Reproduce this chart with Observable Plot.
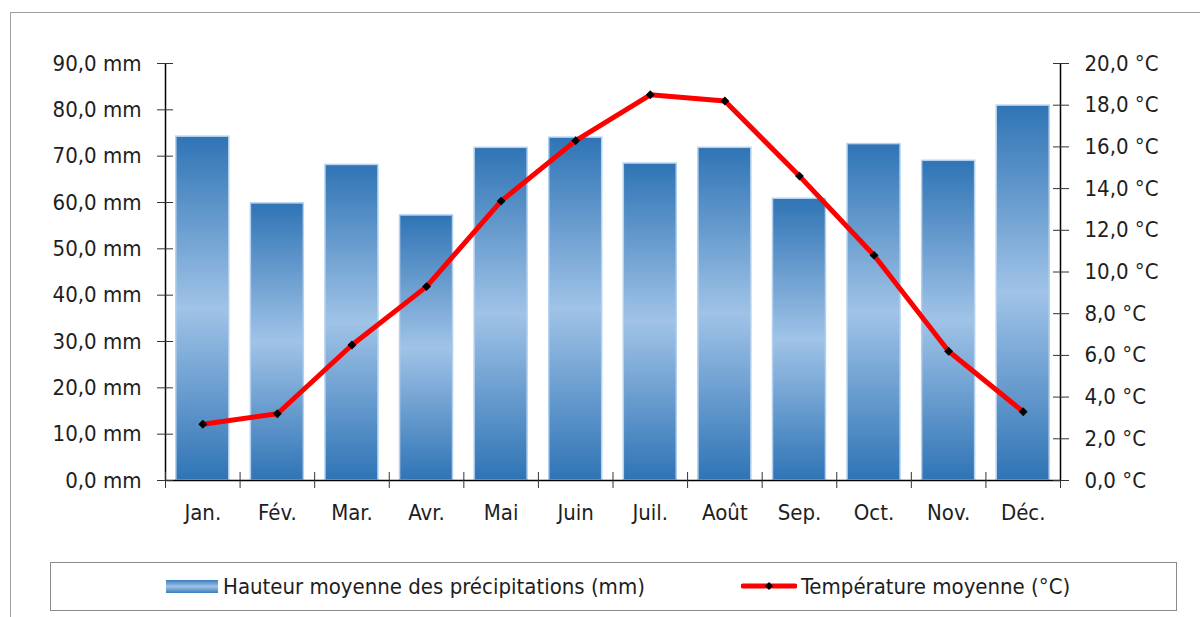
<!DOCTYPE html>
<html>
<head>
<meta charset="utf-8">
<script src="https://cdn.jsdelivr.net/npm/d3@7"></script>
<script src="https://cdn.jsdelivr.net/npm/@observablehq/plot@0.6"></script>
<style>
  html, body { margin: 0; padding: 0; background: #fff; overflow: hidden; }
  body { width: 1200px; height: 617px; position: relative;
         font-family: "Liberation Sans Narrow", "DejaVu Sans Condensed", sans-serif; color: #1e1e1e; }
  #chart { position: absolute; left: 0; top: 0; }
  #frame { position: absolute; left: 10px; top: 12px; width: 1300px; height: 700px;
           border: 1.5px solid #a0a0a0; box-sizing: border-box; pointer-events: none; }
  #legend { position: absolute; left: 50px; top: 562px; width: 1127px; height: 49px;
            border: 1.5px solid #8a8a8a; box-sizing: border-box; font-size: 22px; }
  .item { position: absolute; top: 0; height: 46px; display: flex; align-items: center; white-space: nowrap; }
  .swatch-bar { width: 52px; height: 13px; margin-right: 5px;
                background: linear-gradient(#3a7cbc, #9fc3e6 50%, #3a7cbc); }
</style>
</head>
<body>
<div id="chart"></div>
<div id="frame"></div>
<div id="legend">
  <div class="item" style="left:115px"><div class="swatch-bar"></div><span>Hauteur moyenne des précipitations (mm)</span></div>
  <div class="item" style="left:690px">
    <svg width="56" height="12" style="margin-right:4px">
      <line x1="2" y1="6" x2="54" y2="6" stroke="#ff0000" stroke-width="5" stroke-linecap="round"/>
      <path d="M28,2 L32,6 L28,10 L24,6 Z" fill="#000"/>
    </svg><span>Température moyenne (°C)</span></div>
</div>
<script>
const months = ["Jan.", "Fév.", "Mar.", "Avr.", "Mai", "Juin", "Juil.", "Août", "Sep.", "Oct.", "Nov.", "Déc."];
const precipitation = [74.2, 59.8, 68.1, 57.2, 71.8, 74.0, 68.4, 71.8, 60.8, 72.6, 69.0, 80.9];
const temperature = [2.7, 3.2, 6.5, 9.3, 13.4, 16.3, 18.5, 18.2, 14.6, 10.8, 6.2, 3.3];
const mmTicks = [0, 10, 20, 30, 40, 50, 60, 70, 80, 90];
const tempTicks = [0, 2, 4, 6, 8, 10, 12, 14, 16, 18, 20];

const data = months.map((m, i) => ({month: m, precip: precipitation[i], temp: temperature[i]}));

const W = 1200, H = 617, mL = 165, mR = 140, mT = 63, mB = 137;
const ratio = 90 / 20; // mm per °C on the shared vertical scale
const step = (W - mL - mR) / months.length;
const pxPerMm = (H - mT - mB) / 90;
const tickHalf = 8 / pxPerMm;
const fmt = v => v.toFixed(1).replace(".", ",");

const gradient = () => {
  const defs = d3.create("svg:defs");
  const g = defs.append("linearGradient").attr("id", "barGrad")
    .attr("x1", 0).attr("y1", 0).attr("x2", 0).attr("y2", 1);
  g.append("stop").attr("offset", "0%").attr("stop-color", "#2f74b5");
  g.append("stop").attr("offset", "50%").attr("stop-color", "#a0c3e7");
  g.append("stop").attr("offset", "100%").attr("stop-color", "#2f74b5");
  return defs.node();
};

const chart = Plot.plot({
  width: W, height: H,
  marginLeft: mL, marginRight: mR, marginTop: mT, marginBottom: mB,
  style: {background: "transparent", fontFamily: "'Liberation Sans Narrow', 'DejaVu Sans Condensed', sans-serif", fontSize: "22px", color: "#1e1e1e"},
  x: {domain: months, paddingInner: 0.29, paddingOuter: 0.145, round: false, label: null},
  y: {domain: [0, 90], label: null},
  marks: [
    gradient,
    Plot.barY(data, {x: "month", y: "precip", fill: "url(#barGrad)", stroke: "#b3d0ee", strokeWidth: 1.5}),
    // axis lines
    Plot.ruleY([0], {stroke: "#000", strokeWidth: 1.5}),
    Plot.ruleX([months[0]], {dx: -step / 2, y1: 0, y2: 90, stroke: "#000", strokeWidth: 1.5}),
    Plot.ruleX([months[months.length - 1]], {dx: step / 2, y1: 0, y2: 90, stroke: "#000", strokeWidth: 1.5}),
    // x ticks at category boundaries
    Plot.ruleX(months, {dx: -step / 2, y1: -tickHalf, y2: tickHalf, stroke: "#333", strokeWidth: 1}),
    Plot.ruleX([months[months.length - 1]], {dx: step / 2, y1: -tickHalf, y2: 0, stroke: "#333", strokeWidth: 1}),
    // left axis
    Plot.axisY(mmTicks, {anchor: "left", tickSize: 16, dx: 8, color: "none", stroke: "#333", label: null}),
    Plot.axisY(mmTicks, {anchor: "left", tickSize: 0, tickPadding: 24, tickFormat: d => fmt(d) + " mm", label: null}),
    // right axis (temperature)
    Plot.axisY(tempTicks.map(t => t * ratio), {anchor: "right", tickSize: 16, dx: -8, color: "none", stroke: "#333", label: null}),
    Plot.axisY(tempTicks.map(t => t * ratio), {anchor: "right", tickSize: 0, tickPadding: 24, tickFormat: d => fmt(d / ratio) + " °C", label: null}),
    // x axis labels
    Plot.axisX({tickSize: 0, tickPadding: 24, label: null}),
    // temperature line
    Plot.line(data, {x: "month", y: d => d.temp * ratio, stroke: "#ff0000", strokeWidth: 5}),
    Plot.dot(data, {x: "month", y: d => d.temp * ratio, symbol: "diamond2", r: 4, fill: "#000"})
  ]
});
document.getElementById("chart").appendChild(chart);
</script>
</body>
</html>
